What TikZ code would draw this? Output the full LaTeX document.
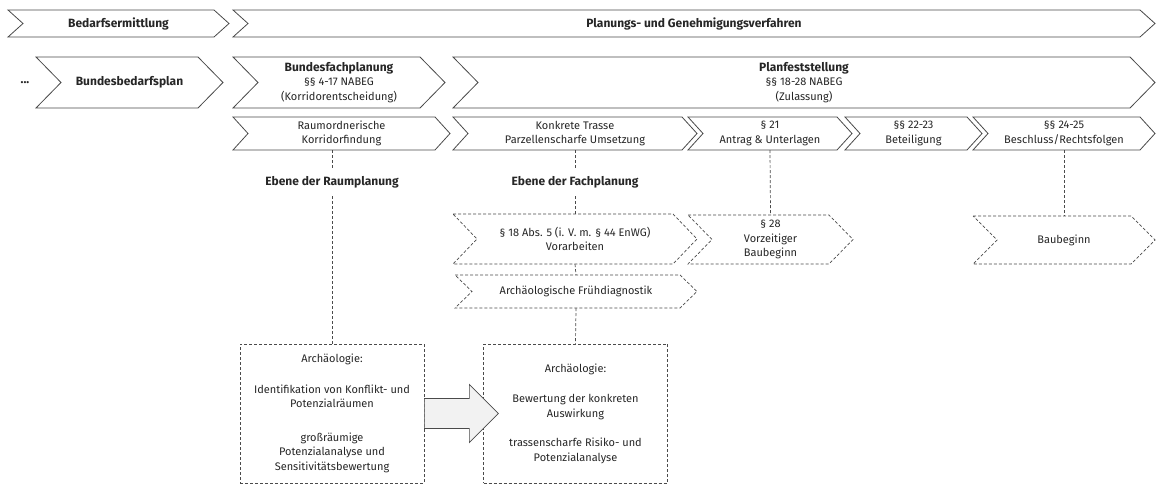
\documentclass[tikz,border=0pt]{standalone}
\usepackage{fontspec}
\setmainfont{Fira Sans}
\usepackage{xcolor}
\definecolor{linegray}{HTML}{4A4A4A}
\definecolor{txtgray}{HTML}{262626}
\definecolor{arrowfill}{HTML}{F2F2F2}

\tikzset{
  chev/.style={draw=linegray, line width=0.8pt, fill=white},
  dchev/.style={draw=linegray, line width=0.7pt, dash pattern=on 3pt off 2pt},
  conn/.style={draw=linegray, line width=0.7pt, dash pattern=on 3pt off 2pt},
  lbl/.style={text=txtgray, font=\fontsize{11}{14.5}\selectfont, align=center, inner sep=0pt},
  hd/.style={lbl, font=\fontsize{12}{14.5}\selectfont\bfseries},
  archbox/.style={lbl, draw=linegray, line width=0.7pt, dash pattern=on 3pt off 2pt,
    minimum width=184pt, minimum height=139pt},
  bigarrow/.style={draw=linegray, line width=0.7pt, fill=arrowfill},
}

% fette Titelzeile
\newcommand{\hdtext}[1]{{\fontsize{12}{14.5}\selectfont\bfseries #1}}

% Pfeilform: [Stil] Name, x links, x rechts, y oben, y unten, Tiefe, Text
\newcommand{\chevron}[8][chev]{%
  \pgfmathsetmacro{\ymid}{(#5+#6)/2}
  \draw[#1] (#3,#5) -- ({#4-#7},#5) -- (#4,\ymid) -- ({#4-#7},#6) -- (#3,#6) -- ({#3+#7},\ymid) -- cycle;
  \node[lbl, minimum width={(#4-#3)*1pt}, minimum height={(#6-#5)*1pt}] (#2) at ({(#3+#4)/2},\ymid) {#8};
}

\begin{document}
\begin{tikzpicture}[x=1pt, y=-1pt]
\useasboundingbox (0,0) rectangle (1157,484);

% Zeile 1
\chevron{bedarf}{8}{229}{10}{37}{15}{\hdtext{Bedarfsermittlung}}
\chevron{verfahren}{233}{1155}{10}{37}{15}{\hdtext{Planungs- und Genehmigungsverfahren}}

% Zeile 2
\node[hd] (dots) at (25,83) {...};
\chevron{bbp}{36}{223}{57}{108}{25}{\hdtext{Bundesbedarfsplan}}
\chevron{bfp}{233}{445}{57}{108}{25}{\hdtext{Bundesfachplanung}\\§§ 4-17 NABEG\\(Korridorentscheidung)}
\chevron{pfv}{453}{1155}{57}{108}{25}{\hdtext{Planfeststellung}\\§§ 18-28 NABEG\\(Zulassung)}

% Zeile 3
\chevron{raum}{233}{450}{117}{150}{15}{Raumordnerische\\Korridorfindung}
\chevron{trasse}{453}{697}{117}{150}{15}{Konkrete Trasse\\Parzellenscharfe Umsetzung}
\chevron{antrag}{688}{852}{117}{150}{15}{§ 21\\Antrag \& Unterlagen}
\chevron{beteil}{845}{982}{117}{150}{15}{§§ 22-23\\Beteiligung}
\chevron{beschluss}{973}{1155}{117}{150}{15}{§§ 24-25\\Beschluss/Rechtsfolgen}

% Ebenen
\node[hd, inner sep=8pt] (ebeneR) at (332,182) {Ebene der Raumplanung};
\node[hd, inner sep=8pt] (ebeneF) at (575,182) {Ebene der Fachplanung};

% gestrichelte Schritte
\chevron[dchev]{vorarb}{453}{697}{214}{264}{24}{§ 18 Abs. 5 (i. V. m. § 44 EnWG)\\Vorarbeiten}
\chevron[dchev]{vorzeitig}{688}{853}{215}{264}{24}{§ 28\\Vorzeitiger\\Baubeginn}
\chevron[dchev]{baubeginn}{973}{1155}{216}{264}{24}{Baubeginn}
\chevron[dchev]{frueh}{455}{697}{275}{308}{17}{Archäologische Frühdiagnostik}

% Archäologie
\node[archbox] (arch1) at (332,413.5) {Archäologie:\\[16pt]
  Identifikation von Konflikt- und\\Potenzialräumen\\[19pt]
  großräumige\\Potenzialanalyse und\\Sensitivitätsbewertung};
\node[archbox] (arch2) at (575.5,413.5) {Archäologie:\\[16pt]
  Bewertung der konkreten\\Auswirkung\\[15pt]
  trassenscharfe Risiko- und\\Potenzialanalyse};

% Verbindungen
\draw[conn] (raum.south -| ebeneR) -- (ebeneR.north);
\draw[conn] (ebeneR.south) -- (arch1.north);
\draw[conn] (trasse.south) -- (ebeneF.north);
\draw[conn] (ebeneF.south) -- (vorarb.north);
\draw[conn] (vorarb.south) -- (frueh.north);
\draw[conn] (frueh.south) -- (arch2.north);
\draw[conn] (antrag.south) -- (vorzeitig.north);
\draw[conn] (beschluss.south) -- (baubeginn.north);

% Blockpfeil
\draw[bigarrow] (arch1.east) ++(0,-15) -- ++(45,0) -- ++(0,-14) -- ++(29,29)
  -- ++(-29,29) -- ++(0,-14) -- ++(-45,0) -- cycle;
\end{tikzpicture}
\end{document}
